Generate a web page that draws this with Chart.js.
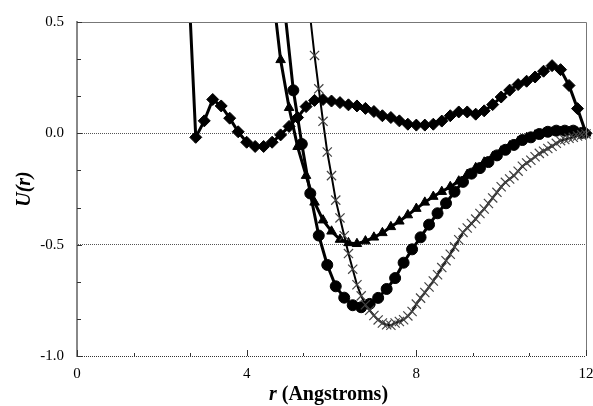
<!DOCTYPE html>
<html>
<head>
<meta charset="utf-8">
<script src="https://cdn.jsdelivr.net/npm/chart.js@4.4.1/dist/chart.umd.min.js"></script>
<style>
  html, body { margin: 0; padding: 0; background: #fff; }
  canvas { display: block; }
</style>
</head>
<body>
<canvas id="grafico" width="593" height="406"></canvas>
<script>
// Datos
const diamanteR = [2.6, 2.8, 3.0, 3.2, 3.4, 3.6, 3.8, 4.0, 4.2, 4.4, 4.6, 4.8, 5.0, 5.2, 5.4, 5.6, 5.8, 6.0, 6.2, 6.4, 6.6, 6.8, 7.0, 7.2, 7.4, 7.6, 7.8, 8.0, 8.2, 8.4, 8.6, 8.8, 9.0, 9.2, 9.4, 9.6, 9.8, 10.0, 10.2, 10.4, 10.6, 10.8, 11.0, 11.2, 11.4, 11.6, 11.8, 12.0];
const diamanteU = [0.8, -0.018, 0.056, 0.152, 0.123, 0.068, 0.007, -0.04, -0.059, -0.059, -0.04, -0.007, 0.031, 0.071, 0.12, 0.148, 0.152, 0.145, 0.138, 0.128, 0.123, 0.112, 0.098, 0.079, 0.071, 0.056, 0.041, 0.037, 0.037, 0.041, 0.055, 0.079, 0.096, 0.096, 0.086, 0.101, 0.129, 0.163, 0.194, 0.219, 0.234, 0.253, 0.279, 0.304, 0.286, 0.215, 0.111, 0.0];

const trianguloR = [4.6, 4.8, 5.0, 5.2, 5.4, 5.6, 5.8, 6.0, 6.2, 6.4, 6.6, 6.8, 7.0, 7.2, 7.4, 7.6, 7.8, 8.0, 8.2, 8.4, 8.6, 8.8, 9.0, 9.2, 9.4, 9.6, 9.8, 10.0, 10.2, 10.4, 10.6, 10.8, 11.0, 11.2, 11.4, 11.6, 11.8, 12.0];
const trianguloU = [0.66, 0.33, 0.115, -0.06, -0.19, -0.31, -0.39, -0.44, -0.477, -0.492, -0.496, -0.484, -0.467, -0.447, -0.42, -0.395, -0.367, -0.338, -0.31, -0.284, -0.262, -0.24, -0.215, -0.185, -0.155, -0.13, -0.105, -0.08, -0.057, -0.037, -0.02, -0.008, 0.0, 0.005, 0.008, 0.008, 0.005, 0.0];

const circuloR = [4.9, 5.1, 5.3, 5.5, 5.7, 5.9, 6.1, 6.3, 6.5, 6.7, 6.9, 7.1, 7.3, 7.5, 7.7, 7.9, 8.1, 8.3, 8.5, 8.7, 8.9, 9.1, 9.3, 9.5, 9.7, 9.9, 10.1, 10.3, 10.5, 10.7, 10.9, 11.1, 11.3, 11.5, 11.7, 11.9];
const circuloU = [0.55, 0.193, -0.048, -0.27, -0.459, -0.591, -0.687, -0.738, -0.772, -0.781, -0.766, -0.739, -0.699, -0.65, -0.581, -0.521, -0.467, -0.41, -0.359, -0.314, -0.262, -0.218, -0.181, -0.156, -0.129, -0.099, -0.074, -0.052, -0.03, -0.018, -0.003, 0.007, 0.012, 0.012, 0.012, 0.002];

const cruzR = [5.5, 5.6, 5.7, 5.8, 5.9, 6.0, 6.1, 6.2, 6.3, 6.4, 6.5, 6.6, 6.7, 6.8, 6.9, 7.0, 7.1, 7.2, 7.3, 7.4, 7.5, 7.6, 7.7, 7.8, 7.9, 8.0, 8.1, 8.2, 8.3, 8.4, 8.5, 8.6, 8.7, 8.8, 8.9, 9.0, 9.1, 9.2, 9.3, 9.4, 9.5, 9.6, 9.7, 9.8, 9.9, 10.0, 10.1, 10.2, 10.3, 10.4, 10.5, 10.6, 10.7, 10.8, 10.9, 11.0, 11.1, 11.2, 11.3, 11.4, 11.5, 11.6, 11.7, 11.8, 11.9, 12.0];
const cruzU = [0.52, 0.35, 0.2, 0.054, -0.084, -0.19, -0.3, -0.38, -0.46, -0.54, -0.61, -0.68, -0.73, -0.77, -0.795, -0.818, -0.838, -0.852, -0.86, -0.862, -0.852, -0.845, -0.837, -0.82, -0.8, -0.767, -0.74, -0.715, -0.69, -0.663, -0.635, -0.603, -0.572, -0.543, -0.51, -0.478, -0.445, -0.425, -0.405, -0.385, -0.36, -0.34, -0.315, -0.29, -0.265, -0.24, -0.22, -0.205, -0.19, -0.17, -0.148, -0.133, -0.121, -0.105, -0.09, -0.08, -0.068, -0.058, -0.045, -0.033, -0.028, -0.022, -0.018, -0.012, -0.007, -0.003];

const ticksX = [0, 4, 8, 12];
const ticksY = [-1.0, -0.5, 0.0, 0.5];

const fuente = "'Liberation Serif', 'Times New Roman', serif";

function puntos(xs, ys) {
    return xs.map((x, i) => ({ x: x, y: ys[i] }));
}

// Marco superior/derecho, marcas interiores y títulos de ejes
const extras = {
    id: 'extras',
    afterDraw(chart) {
        const { ctx, chartArea: a, scales: { x, y } } = chart;
        ctx.save();
        ctx.strokeStyle = '#777';
        ctx.lineWidth = 1;
        ctx.beginPath();
        ctx.moveTo(a.left, a.top + 0.5);
        ctx.lineTo(a.right + 0.5, a.top + 0.5);
        ctx.lineTo(a.right + 0.5, a.bottom);
        ctx.stroke();

        // marcas menores y mayores hacia dentro
        ctx.strokeStyle = '#333';
        ctx.beginPath();
        for (let k = 0; k <= 9; k++) {
            const v = k * 4 / 3;
            const px = Math.round(x.getPixelForValue(v)) + 0.5;
            const len = (k % 3 === 0) ? 6 : 3;
            ctx.moveTo(px, a.bottom);
            ctx.lineTo(px, a.bottom - len);
        }
        for (let k = 0; k <= 9; k++) {
            const v = -1 + k / 6;
            const py = Math.round(y.getPixelForValue(v)) + 0.5;
            const len = (k % 3 === 0) ? 5 : 4;
            ctx.moveTo(a.left, py);
            ctx.lineTo(a.left + len, py);
        }
        ctx.stroke();

        // título eje y
        ctx.fillStyle = '#000';
        ctx.save();
        ctx.translate(30, (a.top + a.bottom) / 2);
        ctx.rotate(-Math.PI / 2);
        ctx.font = `italic bold 20px ${fuente}`;
        ctx.textAlign = 'center';
        ctx.textBaseline = 'alphabetic';
        ctx.fillText('U(r)', 0, 0);
        ctx.restore();

        // título eje x (r en cursiva)
        const parte1 = 'r';
        const parte2 = ' (Angstroms)';
        ctx.textBaseline = 'alphabetic';
        ctx.font = `italic bold 20px ${fuente}`;
        const w1 = ctx.measureText(parte1).width;
        ctx.font = `bold 20px ${fuente}`;
        const w2 = ctx.measureText(parte2).width;
        const inicio = (a.left + a.right) / 2 - 3 - (w1 + w2) / 2;
        ctx.font = `italic bold 20px ${fuente}`;
        ctx.textAlign = 'left';
        ctx.fillText(parte1, inicio, 400);
        ctx.font = `bold 20px ${fuente}`;
        ctx.fillText(parte2, inicio + w1, 400);
        ctx.restore();
    }
};

const recorte = { left: 10, right: 10, top: 0, bottom: 10 };

new Chart(document.getElementById('grafico').getContext('2d'), {
    type: 'line',
    data: {
        datasets: [
            {
                label: 'cruces',
                data: puntos(cruzR, cruzU),
                borderColor: '#000',
                borderWidth: 2,
                pointStyle: 'crossRot',
                pointRadius: 6.5,
                pointBorderColor: '#444',
                pointBorderWidth: 1.2,
                clip: recorte
            },
            {
                label: 'triangulos',
                data: puntos(trianguloR, trianguloU),
                borderColor: '#000',
                borderWidth: 3,
                pointStyle: 'triangle',
                pointRadius: 5.5,
                pointBackgroundColor: '#000',
                pointBorderColor: '#000',
                pointBorderWidth: 1,
                clip: recorte
            },
            {
                label: 'circulos',
                data: puntos(circuloR, circuloU),
                borderColor: '#000',
                borderWidth: 3,
                pointStyle: 'circle',
                pointRadius: 5.5,
                pointBackgroundColor: '#000',
                pointBorderColor: '#000',
                pointBorderWidth: 1,
                clip: recorte
            },
            {
                label: 'diamantes',
                data: puntos(diamanteR, diamanteU),
                borderColor: '#000',
                borderWidth: 3,
                pointStyle: 'rectRot',
                pointRadius: 6,
                pointBackgroundColor: '#000',
                pointBorderColor: '#000',
                pointBorderWidth: 1,
                clip: recorte
            }
        ]
    },
    options: {
        responsive: false,
        animation: false,
        events: [],
        layout: { autoPadding: false, padding: { top: 19, right: 7, left: 0, bottom: 0 } },
        plugins: {
            legend: { display: false },
            tooltip: { enabled: false }
        },
        scales: {
            x: {
                type: 'linear',
                min: 0,
                max: 12,
                afterFit: (s) => { s.height = 50; s.paddingRight = 0; },
                afterBuildTicks: (s) => { s.ticks = ticksX.map(v => ({ value: v })); },
                ticks: {
                    padding: 9,
                    color: '#000',
                    font: { family: fuente, size: 15 },
                    maxRotation: 0,
                    callback: (v) => String(v)
                },
                grid: { display: false, drawTicks: false },
                border: { display: false }
            },
            y: {
                type: 'linear',
                min: -1,
                max: 0.5,
                afterFit: (s) => { s.width = 77; },
                afterBuildTicks: (s) => { s.ticks = ticksY.map(v => ({ value: v })); },
                ticks: {
                    padding: 13,
                    color: '#000',
                    font: { family: fuente, size: 15 },
                    callback: (v) => Number(v).toFixed(1)
                },
                grid: {
                    drawTicks: false,
                    lineWidth: 1,
                    color: (c) => {
                        if (!c.tick) return 'rgba(0,0,0,0)';
                        if (Math.abs(c.tick.value + 1) < 1e-9) return '#333';
                        if (Math.abs(c.tick.value) < 1e-9 || Math.abs(c.tick.value + 0.5) < 1e-9) return '#555';
                        return 'rgba(0,0,0,0)';
                    }
                },
                border: { display: true, color: '#888', width: 2, dash: [1, 1] }
            }
        }
    },
    plugins: [extras]
});
</script>
</body>
</html>
